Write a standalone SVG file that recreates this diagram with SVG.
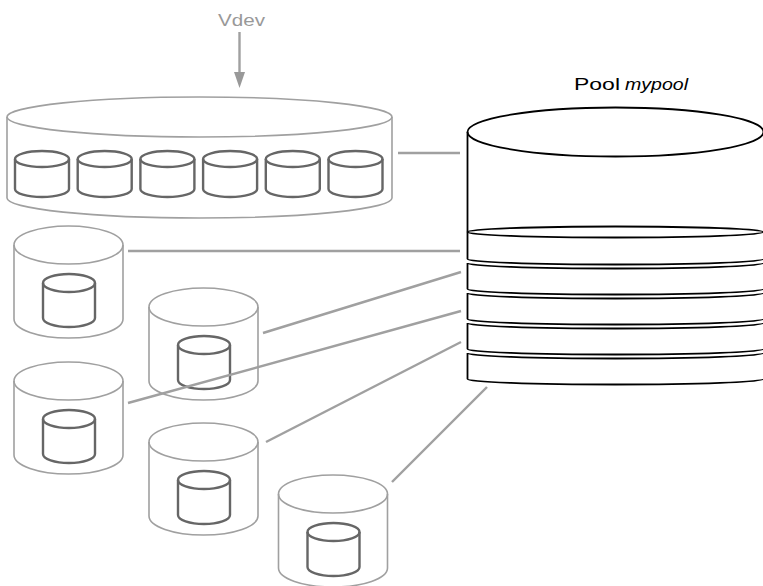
<svg xmlns="http://www.w3.org/2000/svg" xmlns:xlink="http://www.w3.org/1999/xlink" width="763" height="586" viewBox="0 0 763 586">
  <style>
    .outer { fill: none; stroke: #a0a0a0; stroke-width: 1.6; }
    .inner { fill: none; stroke: #666; stroke-width: 2.4; stroke-linejoin: round; }
    .pool { fill: none; stroke: #000; stroke-width: 1.8; }
    .link { stroke: #a0a0a0; stroke-width: 2.4; fill: none; }
    .label { font-family: "Liberation Sans", Arial, sans-serif; font-size: 17px; }
  </style>
  <defs>
    <marker id="arrow" viewBox="0 0 16 11" refX="8" refY="5.5" markerWidth="16" markerHeight="11" markerUnits="userSpaceOnUse" orient="auto">
      <path d="M0,0 L16,5.5 L0,11 Z" fill="#999"/>
    </marker>
    <!-- single-disk vdev: outer cylinder with one disk inside; origin = top ellipse centre -->
    <g id="disk-vdev">
      <ellipse class="outer" cx="0" cy="0" rx="54.5" ry="19"/>
      <path class="outer" d="M-54.5,0 V74 A54.5,19 0 0 0 54.5,74 V0"/>
      <ellipse class="inner" cx="0.5" cy="38" rx="26" ry="9"/>
      <path class="inner" d="M-25.5,38 V73 A26,9 0 0 0 26.5,73 V38"/>
    </g>
    <!-- small disk used inside the raidz vdev; origin = top ellipse centre -->
    <g id="small-disk">
      <ellipse class="inner" cx="0" cy="0" rx="27" ry="8"/>
      <path class="inner" d="M-27,0 V30 A27,8 0 0 0 27,30 V0"/>
    </g>
  </defs>

  <!-- labels -->
  <text class="label" x="218" y="25.5" fill="#999" textLength="47" lengthAdjust="spacingAndGlyphs">Vdev</text>
  <text class="label" x="574" y="89.5" fill="#000" textLength="46" lengthAdjust="spacingAndGlyphs">Pool</text>
  <text class="label" x="625" y="89.5" fill="#000" font-style="italic" textLength="63" lengthAdjust="spacingAndGlyphs">mypool</text>

  <!-- multi-disk vdev -->
  <g id="vdev-raidz">
    <ellipse class="outer" cx="199.5" cy="117" rx="192.5" ry="20"/>
    <path class="outer" d="M7,117 V198 A192.5,20 0 0 0 392,198 V117"/>
    <use xlink:href="#small-disk" x="42" y="159"/>
    <use xlink:href="#small-disk" x="104.7" y="159"/>
    <use xlink:href="#small-disk" x="167.4" y="159"/>
    <use xlink:href="#small-disk" x="230.1" y="159"/>
    <use xlink:href="#small-disk" x="292.8" y="159"/>
    <use xlink:href="#small-disk" x="355.5" y="159"/>
  </g>

  <!-- single-disk vdevs -->
  <g id="vdev-a"><use xlink:href="#disk-vdev" x="68.5" y="245"/></g>
  <g id="vdev-b"><use xlink:href="#disk-vdev" x="203.5" y="307"/></g>
  <g id="vdev-c"><use xlink:href="#disk-vdev" x="68.5" y="381"/></g>
  <g id="vdev-d"><use xlink:href="#disk-vdev" x="203.5" y="442"/></g>
  <g id="vdev-e"><use xlink:href="#disk-vdev" x="333" y="494"/></g>

  <!-- pool: tall cylinder with stacked vdev slices -->
  <g id="pool">
    <ellipse class="pool" cx="615.5" cy="132" rx="148" ry="24.5"/>
    <path class="pool" d="M467.5,132 V232"/>
    <ellipse class="pool" cx="615.5" cy="232" rx="148" ry="5.5"/>
    <path class="pool" d="M467.5,232 V259 A148,5.5 0 0 0 763.5,259"/>
    <path class="pool" d="M467.5,263 A148,5.5 0 0 0 763.5,263 M467.5,263 V289 A148,5.5 0 0 0 763.5,289"/>
    <path class="pool" d="M467.5,293 A148,5.5 0 0 0 763.5,293 M467.5,293 V319 A148,5.5 0 0 0 763.5,319"/>
    <path class="pool" d="M467.5,323 A148,5.5 0 0 0 763.5,323 M467.5,323 V349 A148,5.5 0 0 0 763.5,349"/>
    <path class="pool" d="M467.5,353 A148,5.5 0 0 0 763.5,353 M467.5,353 V379"/>
    <path class="pool" stroke-width="2.6" d="M467.5,379 A148,5.5 0 0 0 763.5,379"/>
  </g>

  <!-- connectors -->
  <g id="connectors">
    <line class="link" x1="239.5" y1="32" x2="239.5" y2="80" stroke="#999" marker-end="url(#arrow)"/>
    <line class="link" x1="398" y1="153" x2="460" y2="153"/>
    <line class="link" x1="128" y1="251" x2="460" y2="251"/>
    <line class="link" x1="263" y1="333" x2="461" y2="272"/>
    <line class="link" x1="128" y1="403" x2="461" y2="311"/>
    <line class="link" x1="266" y1="442" x2="461" y2="342"/>
    <line class="link" x1="392" y1="482" x2="487" y2="387"/>
  </g>
</svg>
